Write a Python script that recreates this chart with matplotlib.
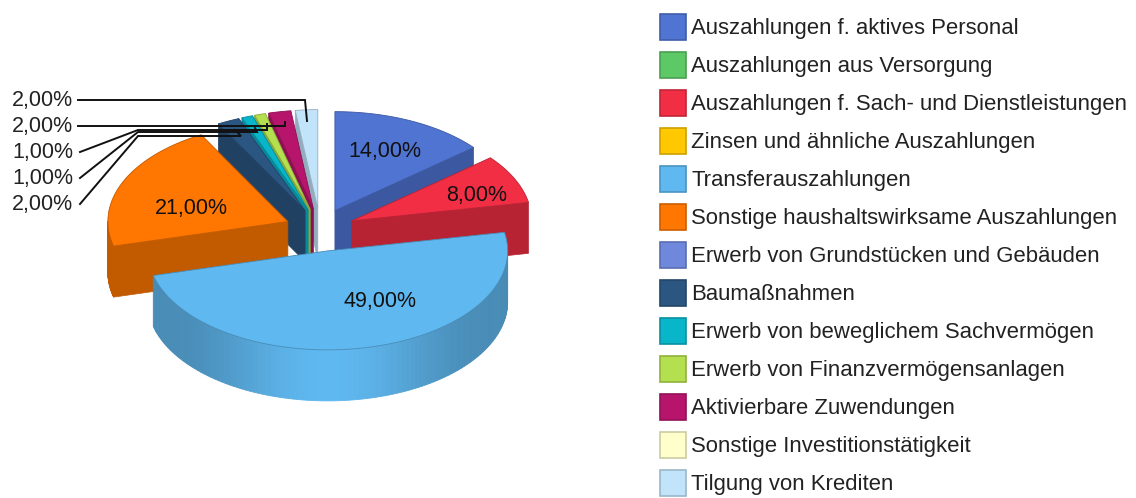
# %%

import numpy as np
import matplotlib
matplotlib.use('Agg')
import matplotlib.pyplot as plt
from matplotlib.patches import Polygon, Rectangle
from matplotlib.colors import to_rgb

# %%

##########
## Data ##
##########

categories = ['Auszahlungen f. aktives Personal', 'Auszahlungen aus Versorgung',
              'Auszahlungen f. Sach- und Dienstleistungen', 'Zinsen und ähnliche Auszahlungen',
              'Transferauszahlungen', 'Sonstige haushaltswirksame Auszahlungen',
              'Erwerb von Grundstücken und Gebäuden', 'Baumaßnahmen',
              'Erwerb von beweglichem Sachvermögen', 'Erwerb von Finanzvermögensanlagen',
              'Aktivierbare Zuwendungen', 'Sonstige Investitionstätigkeit', 'Tilgung von Krediten']
values = [14, 0, 8, 0, 49, 21, 0, 2, 1, 1, 2, 0, 2]
colors = ['#4F74D2', '#5CC866', '#F22E45', '#FFC800', '#5FB8F0', '#FF7600', '#7088DC',
          '#2C5682', '#09B5C9', '#B4DF4E', '#B7156C', '#FFFFCC', '#C2E4FB']

# %%

############
## Layout ##
############

W, H = 1136, 498
CX, CY = 320, 230
RX, RY = 180, 99
EXPLODE_X, EXPLODE_Y = 35, 21.4
DEPTH = 51
SIDE_DARK = 0.76

big_labels = {0: (385, 151), 2: (477, 195), 4: (380, 301), 5: (191, 208)}
small_label_y = [100, 126, 152, 178, 204]
small_label_idx = [12, 10, 9, 8, 7]
leaders = [[(78, 100), (305, 100), (307, 121)],
           [(78, 126), (285, 126), (285, 122)],
           [(80, 152), (138, 130), (267, 130), (267, 124)],
           [(80, 178), (138, 132), (257, 132), (255, 128)],
           [(80, 204), (138, 136), (241, 136), (235, 130)]]

plt.rcParams['font.family'] = ['Liberation Sans', 'DejaVu Sans']
fig = plt.figure(figsize=(W / 100, H / 100), dpi=100)
ax = fig.add_axes([0, 0, 1, 1])
ax.set_xlim(0, W)
ax.set_ylim(H, 0)
ax.axis('off')

# %%

###############
## Pie slices ##
###############

def rim(cx, cy, a, b, n=120):
    t = np.radians(np.linspace(a, b, n))
    return np.column_stack([cx + RX * np.sin(t), cy - RY * np.cos(t)])

def draw_slice(cx, cy, a, b, color, z):
    base = np.array(to_rgb(color))
    side = base * SIDE_DARK
    drop = np.array([0, DEPTH])
    apex = np.array([cx, cy])
    top = rim(cx, cy, a, b)

    # radial faces, only the ones turned towards the viewer
    if -np.sin(np.radians(a)) > 0:
        ax.add_patch(Polygon([apex, top[0], top[0] + drop, apex + drop], fc=side, ec=side, lw=0.5, zorder=z))
    if np.sin(np.radians(b)) > 0:
        ax.add_patch(Polygon([apex, top[-1], top[-1] + drop, apex + drop], fc=side, ec=side, lw=0.5, zorder=z))

    # outer rim, lighter towards the front like the original shading
    angles = np.linspace(a, b, 121)
    for a0, a1 in zip(angles[:-1], angles[1:]):
        mid = (a0 + a1) / 2
        if not 90 <= mid <= 270:
            continue
        shade = np.abs(np.cos(np.radians(mid))) ** 6
        col = side + (base - side) * shade
        seg = rim(cx, cy, a0, a1, 2)
        ax.add_patch(Polygon([seg[0], seg[1], seg[1] + drop, seg[0] + drop], fc=col, ec=col, lw=0.6, zorder=z))

    ax.add_patch(Polygon(np.vstack([apex, top]), fc=color, ec=side, lw=0.6, zorder=z + 0.5))

cum = np.cumsum([0] + values) / sum(values) * 360
draw_order = [0, 2, 12, 10, 9, 8, 7, 5, 4]
for z, i in enumerate(draw_order):
    a, b = cum[i], cum[i + 1]
    mid = np.radians((a + b) / 2)
    cx = CX + EXPLODE_X * np.sin(mid)
    cy = CY - EXPLODE_Y * np.cos(mid)
    draw_slice(cx, cy, a, b, colors[i], z + 1)

# %%

############
## Labels ##
############

def fmt(v):
    return f'{v:.2f}%'.replace('.', ',')

for i, (x, y) in big_labels.items():
    ax.text(x, y, fmt(values[i]), ha='center', va='center', fontsize=15.5, color='#111111', zorder=30)

for i, y in zip(small_label_idx, small_label_y):
    ax.text(73, y, fmt(values[i]), ha='right', va='center', fontsize=15.5, color='#222222', zorder=30)

for line in leaders:
    xs, ys = zip(*line)
    ax.plot(xs, ys, color='#111111', lw=1.4, zorder=25, solid_joinstyle='miter')

# %%

############
## Legend ##
############

for i, (name, col) in enumerate(zip(categories, colors)):
    y = 27 + i * 38
    edge = np.array(to_rgb(col)) * 0.8
    ax.add_patch(Rectangle((660, y - 13), 26, 26, fc=col, ec=edge, lw=1.2, zorder=5))
    ax.text(691, y + 1, name, ha='left', va='center', fontsize=15.9, color='#222222')

fig.savefig('out.png', dpi=100)
